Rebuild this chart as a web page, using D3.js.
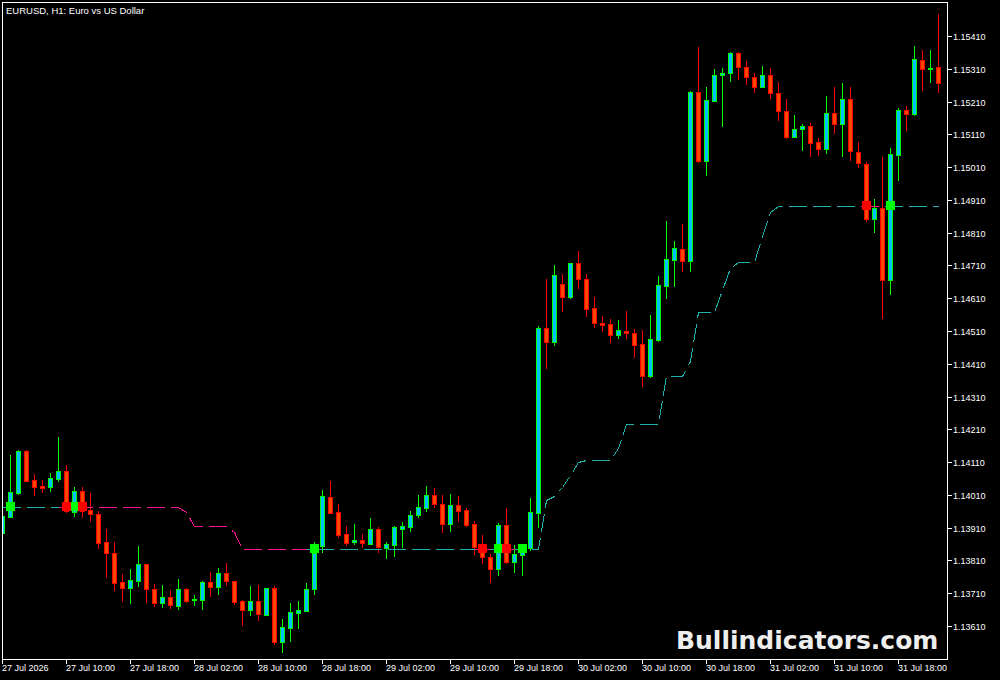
<!DOCTYPE html>
<html><head><meta charset="utf-8">
<script src="https://cdn.jsdelivr.net/npm/d3@7"></script>
<style>html,body{margin:0;padding:0;background:#000;overflow:hidden}svg{display:block}</style>
</head><body>
<svg id="c" width="1000" height="680"></svg>
<script>
const opens = [
1.13894,1.13943,1.14016,1.14144,1.14055,1.14037,1.14034,1.14058,1.14083,1.13958,
1.14022,1.13964,1.13952,1.13866,1.13833,1.13744,1.13726,1.13747,1.13799,1.13723,
1.13680,1.13698,1.13671,1.13723,1.13690,1.13689,1.13744,1.13729,1.13772,1.13747,
1.13686,1.13659,1.13686,1.13644,1.13726,1.13561,1.13604,1.13650,1.13656,1.13723,
1.13854,1.14004,1.13958,1.13891,1.13866,1.13872,1.13860,1.13906,1.13848,1.13857,
1.13906,1.13912,1.13949,1.13970,1.14010,1.13982,1.13921,1.13979,1.13964,1.13921,
1.13860,1.13820,1.13784,1.13918,1.13805,1.13827,1.13848,1.13955,1.14519,1.14476,
1.14653,1.14614,1.14718,1.14669,1.14580,1.14534,1.14531,1.14498,1.14510,1.14504,
1.14470,1.14373,1.14483,1.14647,1.14727,1.14760,1.14724,1.15239,1.15029,1.15212,
1.15291,1.15297,1.15358,1.15315,1.15285,1.15254,1.15291,1.15236,1.15181,1.15102,
1.15126,1.15135,1.15087,1.15065,1.15175,1.15142,1.15218,1.15056,1.15019,1.14852,
1.14885,1.14666,1.15047,1.15184,1.15172,1.15337,1.15310,1.15315];
const highs = [
1.13979,1.14132,1.14147,1.14147,1.14074,1.14055,1.14077,1.14187,1.14101,1.14034,
1.14034,1.14016,1.13961,1.13906,1.13866,1.13769,1.13784,1.13854,1.13799,1.13738,
1.13735,1.13720,1.13753,1.13726,1.13705,1.13747,1.13775,1.13787,1.13802,1.13747,
1.13689,1.13732,1.13735,1.13726,1.13732,1.13631,1.13680,1.13686,1.13741,1.13866,
1.14025,1.14052,1.13982,1.13915,1.13921,1.13891,1.13940,1.13912,1.13866,1.13915,
1.13927,1.13961,1.14010,1.14037,1.14031,1.14010,1.14013,1.14007,1.13970,1.13930,
1.13888,1.13830,1.13924,1.13970,1.13857,1.13860,1.14001,1.14525,1.14669,1.14711,
1.14684,1.14718,1.14754,1.14684,1.14614,1.14556,1.14547,1.14544,1.14571,1.14516,
1.14513,1.14559,1.14678,1.14846,1.14785,1.14836,1.15242,1.15376,1.15254,1.15309,
1.15312,1.15361,1.15361,1.15334,1.15297,1.15318,1.15312,1.15270,1.15218,1.15169,
1.15142,1.15145,1.15099,1.15227,1.15254,1.15267,1.15254,1.15087,1.15026,1.14913,
1.15041,1.15068,1.15190,1.15196,1.15379,1.15367,1.15367,1.15477];
const lows = [
1.13885,1.13943,1.14013,1.14052,1.14010,1.14019,1.14022,1.14052,1.13958,1.13946,
1.13943,1.13930,1.13848,1.13760,1.13720,1.13686,1.13680,1.13732,1.13683,1.13671,
1.13668,1.13665,1.13662,1.13683,1.13674,1.13662,1.13702,1.13708,1.13735,1.13677,
1.13613,1.13644,1.13628,1.13644,1.13555,1.13531,1.13564,1.13604,1.13656,1.13708,
1.13836,1.13955,1.13881,1.13857,1.13860,1.13851,1.13860,1.13836,1.13818,1.13824,
1.13851,1.13900,1.13943,1.13961,1.13973,1.13897,1.13900,1.13930,1.13915,1.13830,
1.13802,1.13744,1.13766,1.13802,1.13775,1.13766,1.13842,1.13912,1.14397,1.14467,
1.14571,1.14611,1.14641,1.14556,1.14522,1.14510,1.14476,1.14489,1.14489,1.14431,
1.14342,1.14370,1.14480,1.14611,1.14647,1.14693,1.14693,1.15026,1.14986,1.15212,
1.15135,1.15273,1.15279,1.15264,1.15239,1.15254,1.15221,1.15154,1.15099,1.15102,
1.15062,1.15044,1.15047,1.15053,1.15114,1.15044,1.15032,1.15010,1.14846,1.14812,
1.14550,1.14623,1.14971,1.15123,1.15169,1.15245,1.15270,1.15239];
const closes = [
1.13946,1.14019,1.14144,1.14052,1.14034,1.14031,1.14062,1.14083,1.13961,1.14022,
1.13961,1.13952,1.13863,1.13833,1.13741,1.13726,1.13750,1.13799,1.13723,1.13680,
1.13698,1.13674,1.13723,1.13686,1.13692,1.13744,1.13729,1.13772,1.13747,1.13683,
1.13659,1.13686,1.13647,1.13726,1.13561,1.13607,1.13653,1.13659,1.13723,1.13833,
1.14007,1.13955,1.13888,1.13863,1.13872,1.13863,1.13906,1.13851,1.13860,1.13912,
1.13915,1.13949,1.13973,1.14010,1.13982,1.13921,1.13979,1.13961,1.13918,1.13851,
1.13820,1.13784,1.13918,1.13805,1.13830,1.13854,1.13958,1.14519,1.14476,1.14681,
1.14614,1.14718,1.14669,1.14577,1.14534,1.14528,1.14498,1.14513,1.14504,1.14467,
1.14373,1.14486,1.14650,1.14730,1.14763,1.14724,1.15239,1.15029,1.15215,1.15291,
1.15297,1.15358,1.15315,1.15285,1.15254,1.15291,1.15236,1.15181,1.15102,1.15126,
1.15135,1.15084,1.15065,1.15175,1.15142,1.15218,1.15059,1.15022,1.14852,1.14885,
1.14666,1.15050,1.15184,1.15172,1.15340,1.15309,1.15312,1.15267];
const stopLine = [
1.13972,1.13972,1.13972,1.13972,1.13972,1.13972,1.13972,1.13972,1.13972,1.13972,
1.13972,1.13972,1.13972,1.13972,1.13972,1.13972,1.13972,1.13972,1.13972,1.13972,
1.13972,1.13972,1.13972,1.13959,1.13914,1.13914,1.13914,1.13914,1.13914,1.13898,
1.13844,1.13844,1.13844,1.13844,1.13844,1.13844,1.13844,1.13844,1.13844,1.13844,
1.13844,1.13844,1.13844,1.13844,1.13844,1.13844,1.13844,1.13844,1.13844,1.13844,
1.13844,1.13844,1.13844,1.13844,1.13844,1.13844,1.13844,1.13844,1.13844,1.13844,
1.13844,1.13844,1.13844,1.13844,1.13844,1.13844,1.13844,1.13844,1.13994,1.14008,
1.14034,1.14071,1.14110,1.14116,1.14116,1.14116,1.14116,1.14153,1.14226,1.14226,
1.14226,1.14226,1.14226,1.14373,1.14373,1.14373,1.14417,1.14567,1.14567,1.14567,
1.14635,1.14702,1.14720,1.14720,1.14720,1.14800,1.14873,1.14890,1.14890,1.14890,
1.14890,1.14890,1.14890,1.14890,1.14890,1.14890,1.14890,1.14890,1.14890,1.14890,
1.14890,1.14890,1.14890,1.14890,1.14890,1.14890,1.14890,1.14890];
const trendDir = [
1,1,1,1,1,1,1,1,-1,1,
-1,-1,-1,-1,-1,-1,-1,-1,-1,-1,
-1,-1,-1,-1,-1,-1,-1,-1,-1,-1,
-1,-1,-1,-1,-1,-1,-1,-1,-1,1,
1,1,1,1,1,1,1,1,1,1,
1,1,1,1,1,1,1,1,1,1,
-1,-1,1,-1,-1,1,1,1,1,1,
1,1,1,1,1,1,1,1,1,1,
1,1,1,1,1,1,1,1,1,1,
1,1,1,1,1,1,1,1,1,1,
1,1,1,1,1,1,1,1,-1,-1,
-1,1,1,1,1,1,1,1];
const buySignals = [1, 9, 39, 62, 65, 111];
const sellSignals = [8, 10, 60, 63, 108];
const timeLabels = ["27 Jul 2026","27 Jul 10:00","27 Jul 18:00","28 Jul 02:00","28 Jul 10:00",
"28 Jul 18:00","29 Jul 02:00","29 Jul 10:00","29 Jul 18:00","30 Jul 02:00","30 Jul 10:00",
"30 Jul 18:00","31 Jul 02:00","31 Jul 10:00","31 Jul 18:00"];
const timeLabelBars = [0,8,16,24,32,40,48,56,64,72,80,88,96,104,112];
const priceTicks = [1.13610,1.13710,1.13810,1.13910,1.14010,1.14110,1.14210,1.14310,1.14410,
1.14510,1.14610,1.14710,1.14810,1.14910,1.15010,1.15110,1.15210,1.15310,1.15410];
const titleText = "EURUSD, H1:  Euro vs US Dollar";
const watermark = "Bullindicators.com";

const svg = d3.select("#c");
svg.append("rect").attr("width",1000).attr("height",680).attr("fill","#000");
const x = d3.scaleLinear().domain([0,117]).range([2.5,938.5]);
const y = d3.scaleLinear().domain([1.13610,1.15410]).range([626,36]);
const py = v => Math.round(y(v));

svg.append("defs").append("clipPath").attr("id","plot")
  .append("rect").attr("x",3).attr("y",3).attr("width",944).attr("height",656);
const g = svg.append("g").attr("clip-path","url(#plot)").attr("shape-rendering","crispEdges");

const idx = d3.range(opens.length);
const BULL_LINE="#00FF00", BULL_FILL="#00BFFF", BEAR_LINE="#FF0000", BEAR_FILL="#FF4500";
const isBull = i => closes[i] >= opens[i];

// wicks
g.selectAll("line.wick").data(idx).join("line").attr("class","wick")
  .attr("x1",i=>x(i)).attr("x2",i=>x(i))
  .attr("y1",i=>py(highs[i])).attr("y2",i=>py(lows[i])+1)
  .attr("stroke",i=>isBull(i)?BULL_LINE:BEAR_LINE).attr("stroke-width",1);
// bodies
g.selectAll("path.body").data(idx).join("path").attr("class","body")
  .attr("d",i=>{
    const t = py(Math.max(opens[i],closes[i]))+0.5, b = py(Math.min(opens[i],closes[i]))+0.5;
    const l = x(i)-2, r = x(i)+2;
    return `M${l},${t}H${r}V${b}H${l}Z`;
  })
  .attr("fill",i=>isBull(i)?BULL_FILL:BEAR_FILL)
  .attr("stroke",i=>isBull(i)?BULL_LINE:BEAR_LINE).attr("stroke-width",1);

// dashed stop line, colored by trend, continuous dash phase
const pts = stopLine.map((v,i)=>[x(i), py(v)+0.5]);
const cum=[0];
for(let i=1;i<pts.length;i++) cum.push(cum[i-1]+Math.hypot(pts[i][0]-pts[i-1][0],pts[i][1]-pts[i-1][1]));
const runs=[]; let s=1;
for(let i=2;i<=pts.length;i++){
  if(i===pts.length || trendDir[i]!==trendDir[s]){ runs.push({s, e:i-1, dir:trendDir[s]}); s=i; }
}
const lineGen = d3.line();
g.selectAll("path.stop").data(runs).join("path").attr("class","stop")
  .attr("d",r=>lineGen(pts.slice(r.s-1, r.e+1)))
  .attr("fill","none").attr("stroke",r=>r.dir>0?"#20B2AA":"#FF1493")
  .attr("stroke-width",1).attr("stroke-dasharray","18,6")
  .attr("stroke-dashoffset",r=>cum[r.s-1]);

// signal squares
const sig = buySignals.map(i=>({i,c:"#00FF00"})).concat(sellSignals.map(i=>({i,c:"#FF0000"})));
g.selectAll("rect.sig").data(sig).join("rect").attr("class","sig")
  .attr("x",d=>x(d.i)-4.5).attr("y",d=>py(stopLine[d.i])-5)
  .attr("width",9).attr("height",9).attr("fill",d=>d.c);

// frame
svg.append("rect").attr("x",2.5).attr("y",2.5).attr("width",945).attr("height",657)
  .attr("fill","none").attr("stroke","#fff").attr("stroke-width",1).attr("shape-rendering","crispEdges");

// title
svg.append("text").attr("x",6).attr("y",14).attr("fill","#fff")
  .attr("font-family","Liberation Sans, Arial, sans-serif").attr("font-size","9.5px").text(titleText);

// bottom axis
const bx = svg.append("g").attr("shape-rendering","crispEdges");
bx.selectAll("line").data(timeLabelBars).join("line")
  .attr("x1",b=>x(b)).attr("x2",b=>x(b)).attr("y1",660).attr("y2",664)
  .attr("stroke","#fff");
svg.append("g").selectAll("text").data(timeLabelBars).join("text")
  .attr("x",b=>x(b)-0.5).attr("y",671).attr("fill","#fff")
  .attr("font-family","Liberation Sans, Arial, sans-serif").attr("font-size","9px")
  .text((b,k)=>timeLabels[k]);

// right axis
const ra = svg.append("g");
ra.selectAll("line").data(priceTicks).join("line").attr("shape-rendering","crispEdges")
  .attr("x1",948).attr("x2",952).attr("y1",p=>py(p)+0.5).attr("y2",p=>py(p)+0.5).attr("stroke","#fff");
ra.selectAll("text").data(priceTicks).join("text")
  .attr("x",953).attr("y",p=>py(p)+3.5).attr("fill","#fff")
  .attr("font-family","Liberation Sans, Arial, sans-serif").attr("font-size","9px")
  .text(p=>d3.format(".5f")(p));

// watermark
svg.append("text").attr("x",676).attr("y",649).attr("fill","#EEEEEE")
  .attr("font-family","DejaVu Sans, sans-serif").attr("font-weight","bold").attr("font-size","25px")
  .text(watermark);
</script>
</body></html>
